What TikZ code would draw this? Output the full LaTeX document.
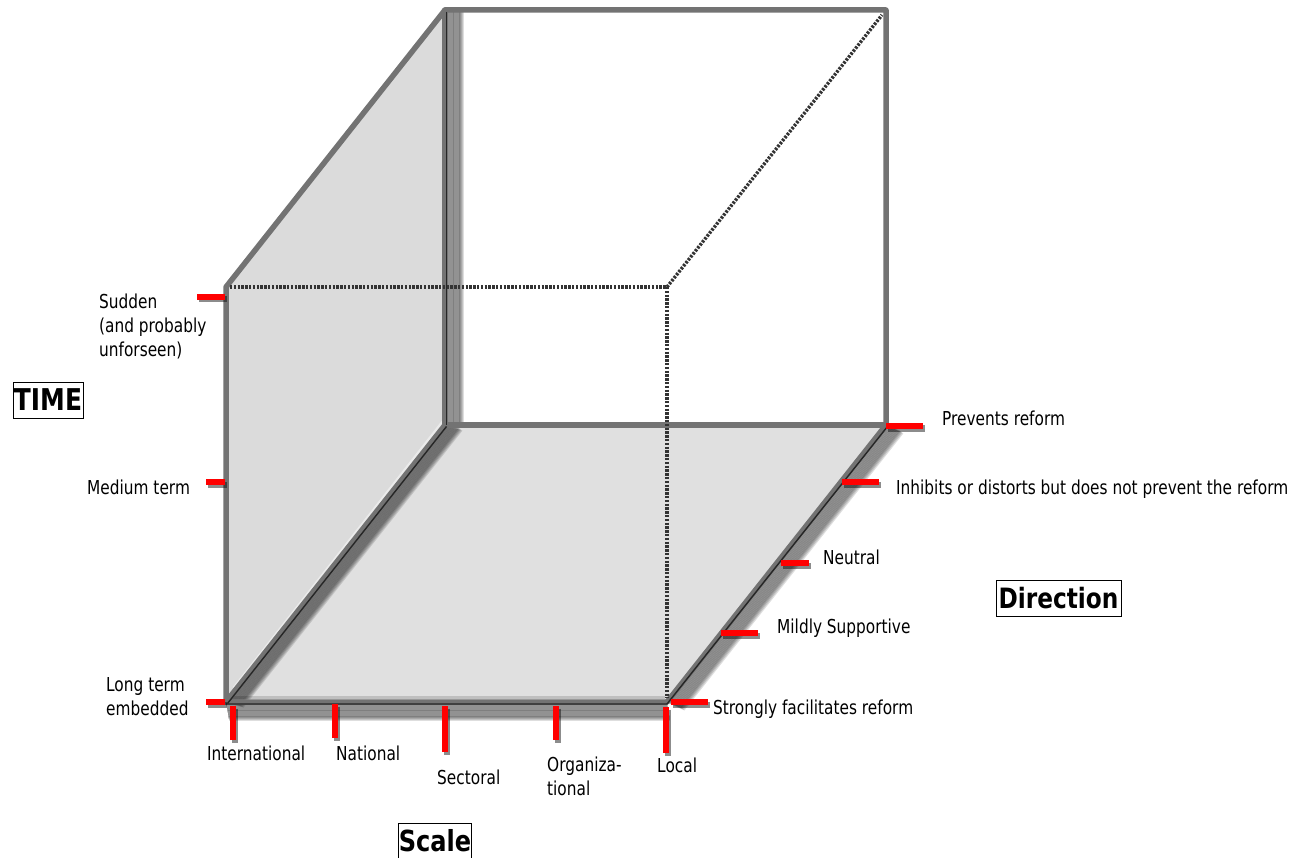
\documentclass[tikz,border=0pt]{standalone}
\usepackage{fontspec}
\setmainfont{DejaVu Sans}[FakeStretch=0.8]
\newfontfamily\boldlab{DejaVu Sans}[FakeStretch=0.83]
\usetikzlibrary{calc}
\newcommand\edgeshadow[4]{%
  \foreach \k in {1,...,14}{%
    \draw[black, opacity=0.13, line width=5pt, line cap=butt]
      ($(#1)+(\k*#3,\k*#4)$) -- ($(#2)+(\k*#3,\k*#4)$);}}
\begin{document}
\begin{tikzpicture}[x=1pt,y=-1pt,
  edge/.style={draw=black!55, line width=5.5pt, line cap=round, line join=round},
  hiddenedge/.style={draw=black!80, line width=3.4pt, dash pattern=on 2.4pt off 1.4pt},
  tick/.style={draw=red, line width=6pt},
  tickshadow/.style={draw=black, opacity=0.45, line width=6pt},
  lab/.style={anchor=base west, inner sep=0pt, font=\fontsize{19.2}{24}\selectfont, align=left},
  axislab/.style={draw, line width=0.9pt, inner sep=0pt, minimum height=36pt}
]
\useasboundingbox (0,0) rectangle (1312,858);
\clip (0,0) rectangle (1312,858);
% cube corners
\coordinate (A) at (226,287);
\coordinate (B) at (445,10);
\coordinate (C) at (886,10);
\coordinate (D) at (886,425);
\coordinate (E) at (445,425);
\coordinate (F) at (226,702);
\coordinate (G) at (667,702);
\coordinate (H) at (667,287);
% faces
\fill[black!14] (A) -- (B) -- (E) -- (F) -- cycle;
\fill[black!12] (F) -- (E) -- (D) -- (G) -- cycle;
\draw[white, opacity=0.45, line width=3pt] ($(F)+(8,-14)$) -- ($(E)+(0,-6)$);
\draw[black!25, line width=3pt] ($(F)+(6,-5)$) -- ($(G)+(-2,-5)$);
% shadows
\edgeshadow{E}{F}{1.1}{0.3}
\edgeshadow{B}{E}{1.2}{0}
\edgeshadow{F}{G}{0.2}{1.2}
\edgeshadow{G}{D}{1.1}{0.5}
% edges
\draw[edge] (F) -- (A) -- (B) -- (C) -- (D);
\draw[edge] (B) -- (E) -- (D);
\draw[edge] (F) -- (E);
\draw[edge] (F) -- (G) -- (D);
\draw[black!85, line width=1.4pt] ($(B)+(1.5,2)$) -- ($(E)+(1.5,0)$);
\draw[black!85, line width=1.4pt] ($(F)+(1.5,1.5)$) -- ($(E)+(1.5,1.5)$);
\draw[black!85, line width=1.4pt] ($(F)+(0,2)$) -- ($(G)+(0,2)$) -- ($(D)+(1.5,1.5)$);
% hidden edges
\draw[hiddenedge] ($(A)+(4,0)$) -- (H);
\draw[hiddenedge] (H) -- ($(G)+(0,-4)$);
\draw[hiddenedge] (H) -- ($(C)+(-4,5)$);
% ticks: time
\coordinate (t1a) at (197,297); \coordinate (t1b) at (225,297);
\coordinate (t2a) at (206,482); \coordinate (t2b) at (225,482);
\coordinate (t3a) at (206,702); \coordinate (t3b) at (225,702);
% ticks: scale
\coordinate (s1a) at (233,706); \coordinate (s1b) at (233,740);
\coordinate (s2a) at (335,704); \coordinate (s2b) at (335,738);
\coordinate (s3a) at (445,706); \coordinate (s3b) at (445,752);
\coordinate (s4a) at (556,706); \coordinate (s4b) at (556,740);
\coordinate (s5a) at (666,707); \coordinate (s5b) at (666,753);
% ticks: direction
\coordinate (d1a) at (886,426); \coordinate (d1b) at (923,426);
\coordinate (d2a) at (842,482); \coordinate (d2b) at (879,482);
\coordinate (d3a) at (781,563); \coordinate (d3b) at (809,563);
\coordinate (d4a) at (721,633); \coordinate (d4b) at (758,633);
\coordinate (d5a) at (671,702); \coordinate (d5b) at (708,702);
\foreach \p in {t1,t2,t3,s1,s2,s3,s4,s5,d1,d2,d3,d4,d5}{
  \draw[tickshadow] ($(\p a)+(2,2.5)$) -- ($(\p b)+(2,2.5)$);
  \draw[tick] (\p a) -- (\p b);}
% labels (base anchor = baseline of last line)
\node[lab] (sudden) at (99,357) {Sudden\\(and probably\\unforseen)};
\node[lab] (medium) at (87,494) {Medium term};
\node[lab] (long) at (106,715) {Long term\\embedded};
\node[lab] (intl) at (207,760) {International};
\node[lab] (natl) at (336,760) {National};
\node[lab] (sect) at (437,784) {Sectoral};
\node[lab] (org) at (547,795) {Organiza-\\tional};
\node[lab] (local) at (657,772) {Local};
\node[lab] (prev) at (942,425) {Prevents reform};
\node[lab] (inhib) at (896,494) {Inhibits or distorts but does not prevent the reform};
\node[lab] (neut) at (823,564) {Neutral};
\node[lab] (mild) at (777,633) {Mildly Supportive};
\node[lab] (strong) at (713,714) {Strongly facilitates reform};
% axis titles
\node[axislab, minimum width=70pt, font=\boldlab\bfseries\fontsize{30}{32}\selectfont] (time) at (48,400) {TIME};
\node[axislab, minimum width=72pt, font=\boldlab\bfseries\fontsize{29}{32}\selectfont] (scale) at (435,841) {Scale};
\node[axislab, minimum width=125pt, font=\boldlab\bfseries\fontsize{28}{32}\selectfont] (dir) at (1058.5,598) {Direction};
\end{tikzpicture}
\end{document}
